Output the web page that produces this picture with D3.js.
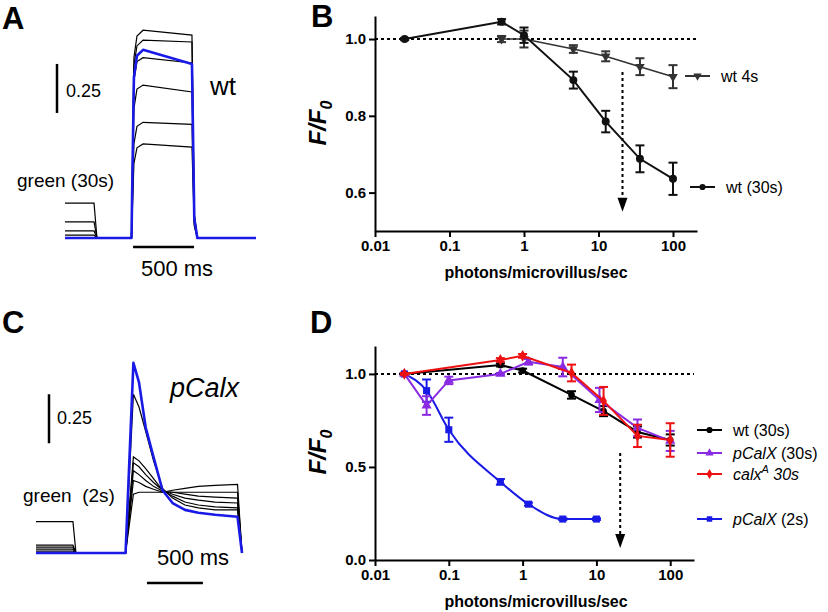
<!DOCTYPE html>
<html>
<head>
<meta charset="utf-8">
<script src="https://cdn.jsdelivr.net/npm/d3@7"></script>
<style>
  body { margin: 0; background: #fff; }
  svg { font-family: "Liberation Sans", Arial, sans-serif; }
  .axis path, .axis line { stroke: #000; stroke-width: 2; }
  .axis text { font-size: 15px; font-weight: bold; fill: #000; }
</style>
</head>
<body>
<svg width="828" height="612"></svg>
<script>
// ---- panel A: wt traces (time in ms, relative fluorescence) ----
var aTime = [0, 238, 262, 545, 565, 590, 640, 1041, 1060, 1085, 1566];
var aTraces = [
  [0, 0, 0, 0, 0.92, 1.03, 1.06, 1.035, 0.12, 0, 0],
  [0, 0, 0, 0, 0.88, 0.98, 1.01, 1.0, 0.12, 0, 0],
  [0.015, 0.015, 0, 0, 0.80, 0.90, 0.92, 0.893, 0.1, 0, 0],
  [0.036, 0.036, 0, 0, 0.66, 0.76, 0.78, 0.745, 0.09, 0, 0],
  [0.082, 0.082, 0, 0, 0.48, 0.57, 0.59, 0.58, 0.07, 0, 0],
  [0.178, 0.178, 0, 0, 0.38, 0.46, 0.48, 0.464, 0.06, 0, 0]
];
var aBlue = [0, 0, 0, 0, 0.82, 0.93, 0.96, 0.888, 0.1, 0, 0];

// ---- panel C: pCalx traces ----
var cTime = [0, 330, 357, 800, 870, 920, 980, 1050, 1130, 1220, 1330, 1450, 1600, 1800, 1840];
var cTraces = [
  [0, 0, 0, 0, 0.81, 0.745, 0.62, 0.47, 0.33, 0.28, 0.245, 0.23, 0.22, 0.22, 0],
  [0.01, 0.01, 0, 0, 0.49, 0.47, 0.43, 0.38, 0.32, 0.29, 0.26, 0.245, 0.235, 0.23, 0],
  [0.02, 0.02, 0, 0, 0.46, 0.44, 0.40, 0.36, 0.32, 0.30, 0.28, 0.27, 0.26, 0.255, 0],
  [0.03, 0.03, 0, 0, 0.42, 0.40, 0.37, 0.34, 0.315, 0.31, 0.30, 0.29, 0.285, 0.28, 0],
  [0.04, 0.04, 0, 0, 0.37, 0.36, 0.34, 0.325, 0.31, 0.31, 0.31, 0.31, 0.31, 0.31, 0],
  [0.16, 0.16, 0, 0, 0.30, 0.31, 0.31, 0.31, 0.31, 0.32, 0.33, 0.34, 0.345, 0.35, 0]
];
var cBlue = [0, 0, 0, 0, 0.97, 0.87, 0.64, 0.49, 0.32, 0.255, 0.22, 0.205, 0.195, 0.185, 0];

// ---- panel B: F/F0 vs intensity ----
var bWt30X = [0.025, 0.5, 1, 4.6, 12.5, 36, 100];
var bWt30Mean = [1.0, 1.045, 1.01, 0.893, 0.785, 0.688, 0.636];
var bWt30Sem = [0.003, 0.007, 0.02, 0.022, 0.028, 0.035, 0.042];
var bWt4X = [0.5, 1, 4.6, 12.5, 36, 100];
var bWt4Mean = [1.0, 1.0, 0.974, 0.955, 0.928, 0.902];
var bWt4Sem = [0.008, 0.022, 0.01, 0.013, 0.022, 0.03];

// ---- panel D ----
var dWt30X = [0.025, 0.5, 1, 4.6, 12.5, 36, 100];
var dWt30Mean = [1.0, 1.048, 1.018, 0.887, 0.80, 0.688, 0.645];
var dWt30Sem = [0.005, 0.008, 0.01, 0.02, 0.027, 0.03, 0.03];
var dPcalx30X = [0.025, 0.05, 0.1, 0.5, 1.2, 3.5, 11, 36, 100];
var dPcalx30Mean = [1.0, 0.83, 0.965, 1.0, 1.065, 1.037, 0.86, 0.71, 0.64];
var dPcalx30Sem = [0.005, 0.05, 0.02, 0.005, 0.015, 0.05, 0.065, 0.045, 0.054];
var dCalxA30X = [0.025, 0.5, 1, 4.6, 12.5, 36, 100];
var dCalxA30Mean = [1.0, 1.075, 1.097, 1.005, 0.855, 0.667, 0.645];
var dCalxA30Sem = [0.005, 0.01, 0.01, 0.045, 0.075, 0.06, 0.09];
var dPcalx2X = [0.025, 0.05, 0.1, 0.5, 1.2, 3.5, 10];
var dPcalx2Mean = [1.0, 0.91, 0.70, 0.42, 0.30, 0.22, 0.22];
var dPcalx2Sem = [0.005, 0.06, 0.065, 0.015, 0.008, 0.005, 0.005];

var xTicks = [0.01, 0.1, 1, 10, 100];
var arrowX = 21;

var svg = d3.select("svg");
svg.append("rect").attr("width", 828).attr("height", 612).attr("fill", "#fff");

function panelLetter(txt, x, y) {
  svg.append("text").attr("x", x).attr("y", y).text(txt)
    .attr("font-size", 31).attr("font-weight", "bold");
}

function zip(t, v) { return t.map(function(d, i) { return [d, v[i]]; }); }

// ---------- trace panels ----------
function tracePanel(opt) {
  var x = d3.scaleLinear().domain(opt.tDomain).range(opt.xRange);
  var y = d3.scaleLinear().domain([0, 1]).range([opt.base, opt.base - 196]);
  var line = d3.line().x(function(d) { return x(d[0]); }).y(function(d) { return y(d[1]); });
  var g = svg.append("g");
  opt.traces.forEach(function(v) {
    g.append("path").attr("d", line(zip(opt.time, v)))
      .attr("fill", "none").attr("stroke", "#000").attr("stroke-width", 1.2);
  });
  g.append("path").attr("d", line(zip(opt.time, opt.blue)))
    .attr("fill", "none").attr("stroke", "#1a1ae6").attr("stroke-width", 2.6)
    .attr("stroke-linejoin", "round");
  // 0.25 scale bar
  g.append("line").attr("x1", opt.vBarX).attr("x2", opt.vBarX)
    .attr("y1", y(opt.vBar0)).attr("y2", y(opt.vBar0 + 0.25))
    .attr("stroke", "#000").attr("stroke-width", 2.5);
  // 500 ms scale bar
  g.append("line").attr("x1", x(opt.hBar0)).attr("x2", x(opt.hBar0 + 500))
    .attr("y1", opt.hBarY).attr("y2", opt.hBarY)
    .attr("stroke", "#000").attr("stroke-width", 2.5);
  return g;
}

var gA = tracePanel({
  time: aTime, traces: aTraces, blue: aBlue, tDomain: [0, 1566], xRange: [65, 256],
  base: 238, vBarX: 57, vBar0: 0.638, hBar0: 558, hBarY: 247
});
gA.append("text").attr("x", 66).attr("y", 97).attr("font-size", 18).text("0.25");
gA.append("text").attr("x", 210).attr("y", 95).attr("font-size", 26).text("wt");
gA.append("text").attr("x", 17).attr("y", 187).attr("font-size", 19).text("green (30s)");
gA.append("text").attr("x", 177).attr("y", 276).attr("font-size", 22)
  .attr("text-anchor", "middle").text("500 ms");

var gC = tracePanel({
  time: cTime, traces: cTraces, blue: cBlue, tDomain: [0, 1840], xRange: [36, 242],
  base: 553, vBarX: 49, vBar0: 0.56, hBar0: 991, hBarY: 583
});
gC.append("text").attr("x", 57).attr("y", 424).attr("font-size", 18).text("0.25");
gC.append("text").attr("x", 170).attr("y", 397).attr("font-size", 27)
  .attr("font-style", "italic").text("pCalx");
gC.append("text").attr("x", 23).attr("y", 502).attr("font-size", 19)
  .attr("xml:space", "preserve").style("white-space", "pre").text("green  (2s)");
gC.append("text").attr("x", 193).attr("y", 565).attr("font-size", 22)
  .attr("text-anchor", "middle").text("500 ms");

panelLetter("A", 2, 29);
panelLetter("B", 311, 27);
panelLetter("C", 2, 333);
panelLetter("D", 310, 333);

// ---------- dose-response panels ----------
function dosePanel(opt) {
  var g = svg.append("g");
  var x = d3.scaleLog().domain([0.01, 210]).range(opt.xRange);
  var y = d3.scaleLinear().domain(opt.yDomain).range(opt.yRange);

  g.append("g").attr("class", "axis").attr("transform", "translate(0," + opt.yRange[0] + ")")
    .call(d3.axisBottom(x).tickValues(xTicks).tickSize(6).tickSizeOuter(0)
      .tickFormat(function(d) { return String(d); }));
  g.append("g").attr("class", "axis").attr("transform", "translate(" + opt.xRange[0] + ",0)")
    .call(d3.axisLeft(y).tickValues(opt.yTicks).tickSize(6).tickSizeOuter(0)
      .tickFormat(d3.format(".1f")));

  // dotted reference at 1.0
  g.append("line").attr("x1", opt.xRange[0]).attr("x2", opt.xRange[1])
    .attr("y1", y(1)).attr("y2", y(1))
    .attr("stroke", "#000").attr("stroke-width", 2).attr("stroke-dasharray", "3,3");

  // dotted arrow
  var ax = x(arrowX), ay0 = y(opt.arrow[0]), ay1 = y(opt.arrow[1]);
  g.append("line").attr("x1", ax).attr("x2", ax).attr("y1", ay0).attr("y2", ay1 - 12)
    .attr("stroke", "#000").attr("stroke-width", 2).attr("stroke-dasharray", "3,3");
  g.append("path").attr("d", "M" + (ax - 5) + "," + (ay1 - 14) + "L" + (ax + 5) + "," + (ay1 - 14) +
    "L" + ax + "," + ay1 + "Z").attr("fill", "#000");

  opt.series.forEach(function(s) {
    var pts = s.x.map(function(d, i) { return { x: d, m: s.mean[i], e: s.sem[i] }; });
    var line = d3.line().x(function(d) { return x(d.x); }).y(function(d) { return y(d.m); })
      .curve(s.curve || d3.curveLinear);
    g.append("path").attr("d", line(pts)).attr("fill", "none")
      .attr("stroke", s.color).attr("stroke-width", s.width || 2);
    var eb = g.append("g").selectAll("g").data(pts).enter().append("g")
      .attr("stroke", s.color).attr("stroke-width", 2);
    eb.append("line").attr("x1", function(d) { return x(d.x); }).attr("x2", function(d) { return x(d.x); })
      .attr("y1", function(d) { return y(d.m - d.e); }).attr("y2", function(d) { return y(d.m + d.e); });
    [-1, 1].forEach(function(sg) {
      eb.append("line").attr("x1", function(d) { return x(d.x) - 4.5; })
        .attr("x2", function(d) { return x(d.x) + 4.5; })
        .attr("y1", function(d) { return y(d.m + sg * d.e); })
        .attr("y2", function(d) { return y(d.m + sg * d.e); });
    });
    g.append("g").selectAll("path").data(pts).enter().append("path")
      .attr("d", d3.symbol().type(s.symbol).size(s.size || 45))
      .attr("transform", function(d) {
        return "translate(" + x(d.x) + "," + y(d.m) + ")" + (s.flip ? " rotate(180)" : "");
      })
      .attr("fill", s.color);
  });

  // axis titles
  var t = g.append("text").attr("transform", "translate(" + 326 + "," + opt.yTitle + ") rotate(-90)")
    .attr("text-anchor", "middle").attr("font-size", 24).attr("font-weight", "bold")
    .attr("font-style", "italic");
  t.append("tspan").text("F/F");
  t.append("tspan").attr("font-size", 16).attr("dy", 6).text("0");
  g.append("text").attr("x", 536).attr("y", opt.xTitle).attr("text-anchor", "middle")
    .attr("font-size", 16).attr("font-weight", "bold").text("photons/microvillus/sec");

  // legend
  opt.legend.forEach(function(l) {
    var lg = g.append("g").attr("transform", "translate(" + l.x + "," + l.y + ")");
    lg.append("line").attr("x1", 0).attr("x2", 25).attr("stroke", l.color).attr("stroke-width", 2);
    lg.append("path").attr("d", d3.symbol().type(l.symbol).size(30))
      .attr("transform", "translate(12.5,0)" + (l.flip ? " rotate(180)" : "")).attr("fill", l.color);
    var tx = lg.append("text").attr("x", l.tx).attr("y", 6).attr("font-size", 16);
    l.parts.forEach(function(p) {
      var ts = tx.append("tspan").text(p[0]);
      if (p[1] === "i") ts.attr("font-style", "italic");
      if (p[1] === "sup") ts.attr("font-style", "italic").attr("font-size", 11).attr("dy", -7);
      if (p[1] === "iafter") ts.attr("font-style", "italic").attr("dy", 7);
    });
  });
}

dosePanel({
  xRange: [375, 697], yDomain: [0.5, 1.06], yRange: [231, 16], yTicks: [0.6, 0.8, 1.0],
  arrow: [0.914, 0.55], yTitle: 123, xTitle: 278,
  series: [
    { x: bWt4X, mean: bWt4Mean, sem: bWt4Sem, color: "#333", symbol: d3.symbolTriangle, flip: true, width: 1.6, size: 40 },
    { x: bWt30X, mean: bWt30Mean, sem: bWt30Sem, color: "#111", symbol: d3.symbolCircle, size: 50 }
  ],
  legend: [
    { x: 685, y: 76, tx: 36, color: "#333", symbol: d3.symbolTriangle, flip: true, parts: [["wt 4s"]] },
    { x: 690, y: 187, tx: 36, color: "#111", symbol: d3.symbolCircle, parts: [["wt (30s)"]] }
  ]
});

dosePanel({
  xRange: [375, 694], yDomain: [0, 1.15], yRange: [560, 346], yTicks: [0, 0.5, 1.0],
  arrow: [0.575, 0.065], yTitle: 452, xTitle: 607,
  series: [
    { x: dPcalx2X, mean: dPcalx2Mean, sem: dPcalx2Sem, color: "#1a1ae6", symbol: d3.symbolSquare, curve: d3.curveMonotoneX, size: 50 },
    { x: dWt30X, mean: dWt30Mean, sem: dWt30Sem, color: "#000", symbol: d3.symbolCircle, size: 35 },
    { x: dPcalx30X, mean: dPcalx30Mean, sem: dPcalx30Sem, color: "#8a2be2", symbol: d3.symbolTriangle, size: 45 },
    { x: dCalxA30X, mean: dCalxA30Mean, sem: dCalxA30Sem, color: "#ee1111", symbol: d3.symbolDiamond, size: 40 }
  ],
  legend: [
    { x: 697, y: 430, tx: 36, color: "#000", symbol: d3.symbolCircle, parts: [["wt (30s)"]] },
    { x: 697, y: 453, tx: 36, color: "#8a2be2", symbol: d3.symbolTriangle, parts: [["pCalX", "i"], [" (30s)"]] },
    { x: 697, y: 474, tx: 36, color: "#ee1111", symbol: d3.symbolDiamond, parts: [["calx", "i"], ["A", "sup"], [" 30s", "iafter"]] },
    { x: 697, y: 519, tx: 36, color: "#1a1ae6", symbol: d3.symbolSquare, parts: [["pCalX", "i"], [" (2s)"]] }
  ]
});
</script>
</body>
</html>
